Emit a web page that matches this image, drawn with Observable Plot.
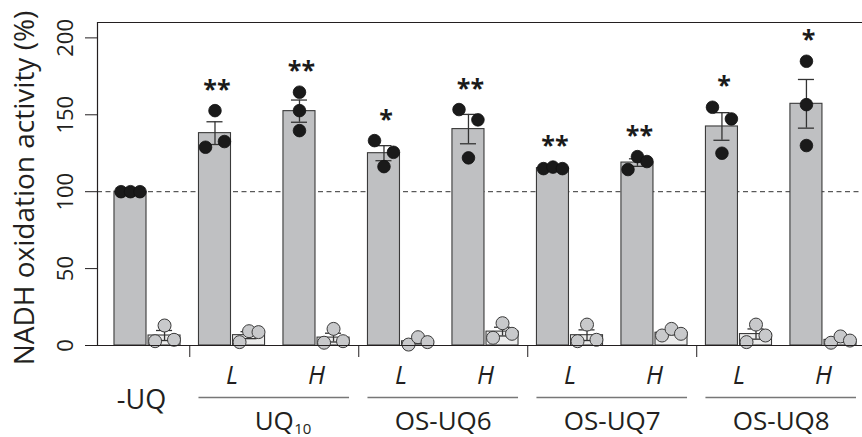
<!DOCTYPE html>
<html><head><meta charset="utf-8">
<script src="https://cdn.jsdelivr.net/npm/d3@7"></script>
<script src="https://cdn.jsdelivr.net/npm/@observablehq/plot@0.6"></script>
<style>
body{margin:0;background:#fff;}
g[aria-label="significance"] text{letter-spacing:4px;}
</style>
</head><body><div id="chart"></div>
<script>
// ---- data ----
const subgroups = ["-UQ","UQ10 L","UQ10 H","OS-UQ6 L","OS-UQ6 H","OS-UQ7 L","OS-UQ7 H","OS-UQ8 L","OS-UQ8 H"];
const subgroupGroup = ["-UQ","UQ10","UQ10","OS-UQ6","OS-UQ6","OS-UQ7","OS-UQ7","OS-UQ8","OS-UQ8"];
const doseLabels = ["","L","H","L","H","L","H","L","H"];
const standaloneLabels = ["-UQ","","","","","","","",""];
const groupNames = ["UQ10","OS-UQ6","OS-UQ7","OS-UQ8"];
const groupTexts = ["UQ","OS-UQ6","OS-UQ7","OS-UQ8"];
const groupSubscripts = ["10","","",""];
const activityPoints = [
  [100,100,100],
  [152.7,128.9,132.6],
  [164.7,152.7,139.7],
  [133.2,125.6,116.3],
  [153.4,146.7,122.0],
  [115.0,116.0,115.0],
  [114.4,122.8,119.6],
  [154.9,147.3,125.0],
  [184.8,156.6,130.0]
];
const activitySlots = [
  [-1,0,1],[0,-1,1],[0,0,0],[-1,1,0],[-1,1,0],[-1,0,1],[-1,0,1],[-1,1,0],[0,0,0]
];
const controlPoints = [
  [13.0,2.8,3.7],
  [2.2,9.3,8.7],
  [10.8,1.8,2.8],
  [0.6,5.4,2.2],
  [14.5,5.0,7.6],
  [13.6,2.8,3.7],
  [6.5,10.8,7.6],
  [13.6,2.2,6.5],
  [1.8,5.9,3.2]
];
const controlSlots = [
  [0,-1,1],[-1,0,1],[0,-1,1],[-1,0,1],[0,-1,1],[0,-1,1],[-1,0,1],[0,-1,1],[-1,0,1]
];
const significance = ["","**","**","*","**","**","**","*","*"];
const yTicks = [0,50,100,150,200];
const referenceLevel = 100;
const yTitle = "NADH oxidation activity (%)";

// ---- layout / style constants ----
const BAR = 0.379, GAP = 0.012, SLOT = 0.112, CAP = 0.095;
const xDomain = [-0.592, 8.462], yDomain = [0, 210];
const sem = a => d3.deviation(a) / Math.sqrt(a.length);

const rows = subgroups.map((s, i) => ({
  i, s,
  dose: doseLabels[i], solo: standaloneLabels[i], sig: significance[i],
  mean: d3.mean(activityPoints[i]), sem: sem(activityPoints[i]), max: d3.max(activityPoints[i]),
  cmean: d3.mean(controlPoints[i]), csem: sem(controlPoints[i])
}));
const mainX = i => i - GAP - BAR / 2;
const ctrlX = i => i + GAP + BAR / 2;

const mainDots = rows.flatMap(r => activityPoints[r.i].map((v, k) => ({x: mainX(r.i) + activitySlots[r.i][k] * SLOT, y: v})));
const ctrlDots = rows.flatMap(r => controlPoints[r.i].map((v, k) => ({x: ctrlX(r.i) + controlSlots[r.i][k] * SLOT, y: v})));

const errs = rows.flatMap(r => [
  {x: mainX(r.i), lo: r.mean - r.sem, hi: r.mean + r.sem},
  {x: ctrlX(r.i), lo: r.cmean - r.csem, hi: r.cmean + r.csem}
]);
const caps = errs.flatMap(e => [{x: e.x, y: e.lo}, {x: e.x, y: e.hi}]);

const groupsData = groupNames.map((g, k) => {
  const idx = subgroupGroup.map((s, i) => s === g ? i : -1).filter(i => i >= 0);
  return {name: groupTexts[k], sub: groupSubscripts[k], first: d3.min(idx), last: d3.max(idx), center: d3.mean(idx)};
});
const separators = subgroupGroup.map((g, i) => (i > 0 && g !== subgroupGroup[i - 1]) ? i - 0.5 : null).filter(v => v !== null);

const plot = Plot.plot({
  width: 862, height: 437,
  marginLeft: 97, marginRight: 0, marginTop: 22, marginBottom: 92,
  x: {domain: xDomain, axis: null},
  y: {domain: yDomain, axis: null},
  style: {fontFamily: "'Open Sans', sans-serif", background: "#fff", color: "#231f20"},
  marks: [
    Plot.ruleY([referenceLevel], {stroke: "#333", strokeWidth: 1, strokeDasharray: "5,3.5"}),
    Plot.rectY(rows, {x1: d => d.i - GAP - BAR, x2: d => d.i - GAP, y: "mean", fill: "#bfc0c2", stroke: "#3a3a3a", strokeWidth: 1.1}),
    Plot.rectY(rows, {x1: d => d.i + GAP, x2: d => d.i + GAP + BAR, y: "cmean", fill: "#ececec", stroke: "#3a3a3a", strokeWidth: 1.1}),
    Plot.ruleX(errs, {x: "x", y1: "lo", y2: "hi", stroke: "#333", strokeWidth: 1.3}),
    Plot.ruleY(caps, {y: "y", x1: d => d.x - CAP, x2: d => d.x + CAP, stroke: "#333", strokeWidth: 1.3}),
    Plot.dot(mainDots, {x: "x", y: "y", r: 6.3, fill: "#1a1a1a", stroke: "#111", strokeWidth: 0.8}),
    Plot.dot(ctrlDots, {x: "x", y: "y", r: 6.5, fill: "#c8c9cb", stroke: "#3a3a3a", strokeWidth: 1}),
    Plot.text(rows.filter(d => d.sig), {x: d => mainX(d.i), y: "max", text: "sig", dx: 2, dy: -13, lineAnchor: "bottom", fontSize: 25, fontWeight: "bold", fill: "#1a1a1a", ariaLabel: "significance"}),
    // frame lines
    Plot.ruleX([xDomain[0]], {stroke: "#231f20", strokeWidth: 1.2}),
    Plot.ruleY([yDomain[1]], {stroke: "#231f20", strokeWidth: 1.2}),
    Plot.ruleY([yDomain[0]], {stroke: "#231f20", strokeWidth: 1.2}),
    Plot.axisY({ticks: yTicks, tickSize: 12, tickRotate: -90, tickPadding: 13, fontSize: 22, label: null}),
    Plot.axisX({ticks: separators, tickSize: 12, tickFormat: () => "", label: null}),
    // category labels
    Plot.text(rows.filter(d => d.dose), {x: "i", text: "dose", frameAnchor: "bottom", dy: 38, lineAnchor: "bottom", fontSize: 25, fontStyle: "italic"}),
    Plot.text(rows.filter(d => d.solo), {x: "i", text: "solo", frameAnchor: "bottom", dx: -6, dy: 63, lineAnchor: "bottom", fontSize: 27}),
    Plot.ruleY(groupsData, {y: () => 0, x1: d => d.first - GAP - BAR, x2: d => d.last + GAP + BAR, dy: 52, stroke: "#777", strokeWidth: 1.4}),
    Plot.text(groupsData, {x: "center", text: "name", frameAnchor: "bottom", dy: 84, lineAnchor: "bottom", fontSize: 26}),
    Plot.text(groupsData.filter(d => d.sub), {x: "center", text: "sub", frameAnchor: "bottom", textAnchor: "start", dx: 20, dy: 88, lineAnchor: "bottom", fontSize: 15}),
    Plot.text([yTitle], {text: d => d, frameAnchor: "left", rotate: -90, textAnchor: "middle", lineAnchor: "bottom", dx: -64, dy: 4, fontSize: 28})
  ]
});
document.getElementById("chart").appendChild(plot);
</script>
</body></html>
